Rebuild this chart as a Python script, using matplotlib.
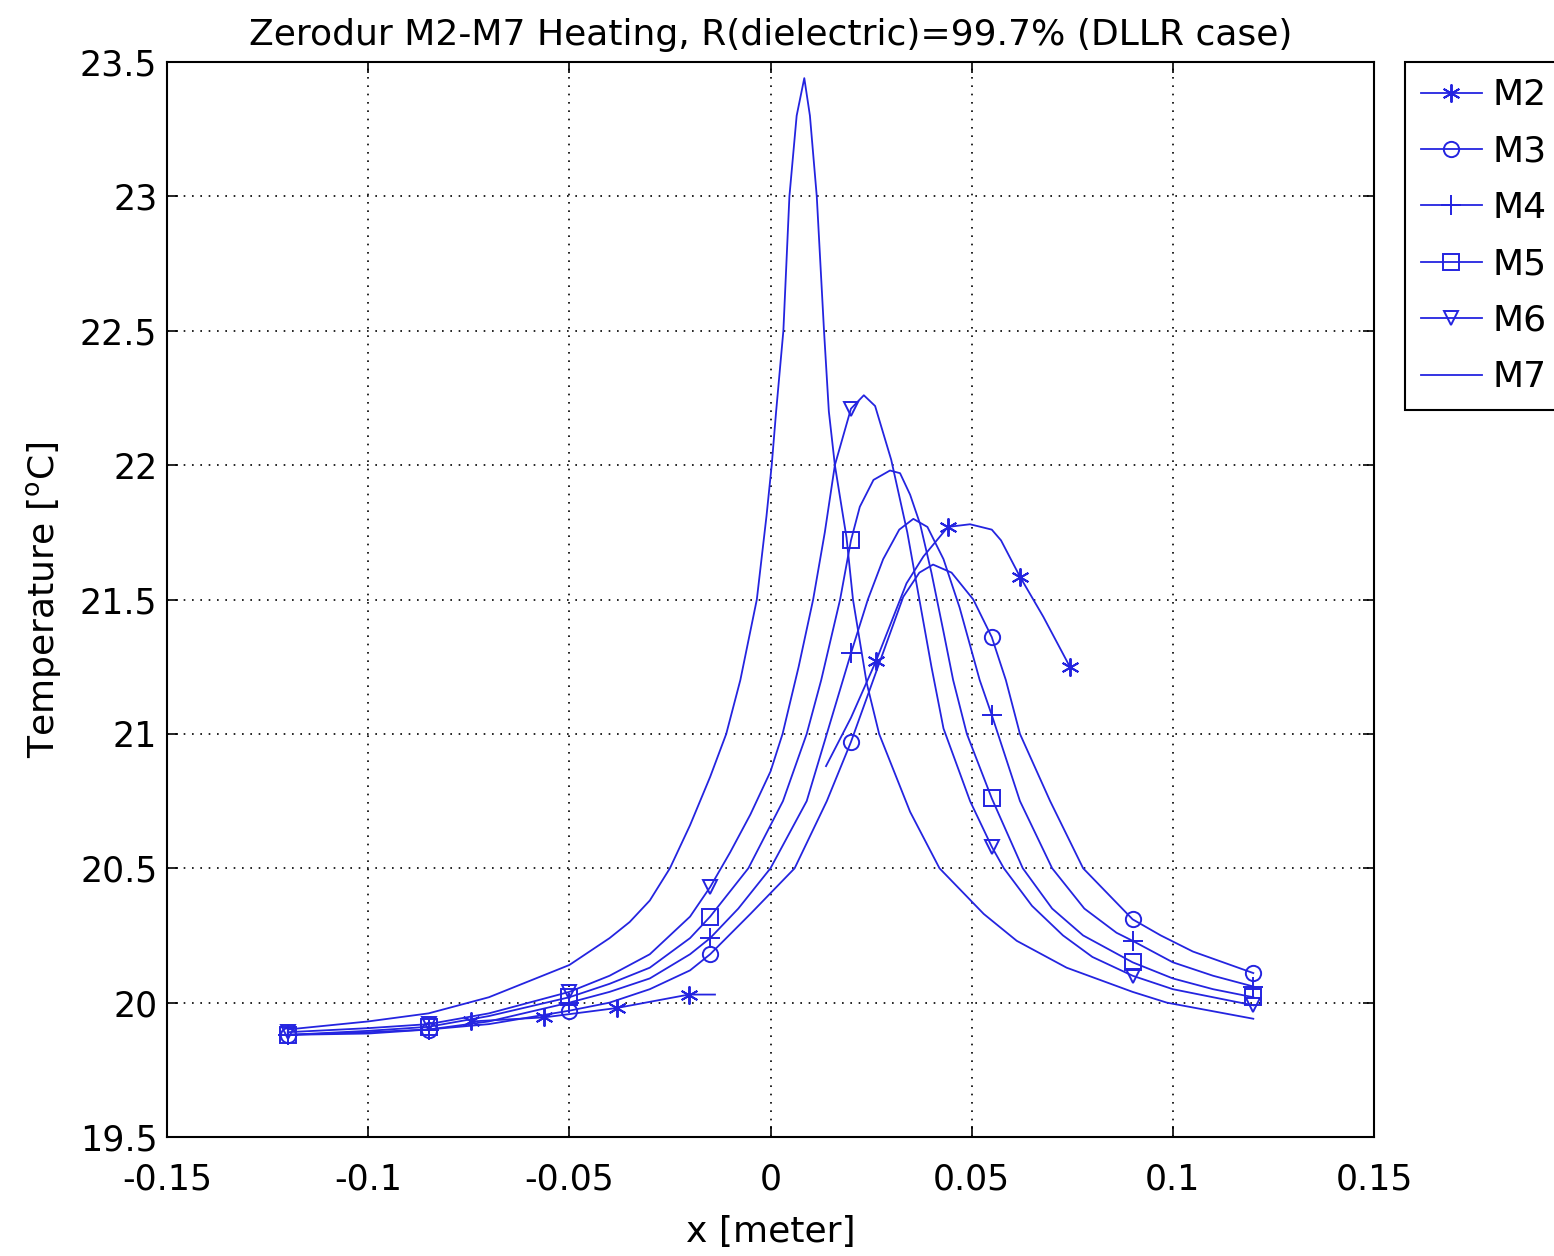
import matplotlib
matplotlib.use("Agg")
import matplotlib.pyplot as plt
import numpy as np

# ---------------- data ----------------
title = "Zerodur M2-M7 Heating, R(dielectric)=99.7% (DLLR case)"
x_ticks = [-0.15, -0.1, -0.05, 0, 0.05, 0.1, 0.15]
x_tick_labels = ["-0.15", "-0.1", "-0.05", "0", "0.05", "0.1", "0.15"]
y_ticks = [19.5, 20, 20.5, 21, 21.5, 22, 22.5, 23, 23.5]
y_tick_labels = ["19.5", "20", "20.5", "21", "21.5", "22", "22.5", "23", "23.5"]

# M2 (annular mirror: two segments)
x2_left = [-0.0744, -0.0563, -0.0382, -0.0203, -0.0138]
t2_left = [19.93, 19.945, 19.98, 20.03, 20.03]
x2_right = [0.0138, 0.02, 0.0262, 0.0338, 0.038, 0.0441, 0.0496, 0.055, 0.0573,
            0.062, 0.0678, 0.0744]
t2_right = [20.88, 21.06, 21.27, 21.56, 21.66, 21.77, 21.78, 21.76, 21.72,
            21.585, 21.436, 21.25]
m2_marks = [-0.0744, -0.0563, -0.0382, -0.0203, 0.0262, 0.0441, 0.062, 0.0744]

# M3
x3 = [-0.12, -0.10, -0.085, -0.07, -0.05, -0.04, -0.03, -0.02, -0.015, -0.005,
      0.006, 0.014, 0.02, 0.026, 0.033, 0.037, 0.0404, 0.045, 0.0504, 0.055,
      0.0585, 0.062, 0.0695, 0.0777, 0.09, 0.097, 0.105, 0.12]
t3 = [19.88, 19.885, 19.90, 19.92, 19.97, 20.00, 20.05, 20.12, 20.18, 20.33,
      20.50, 20.75, 20.97, 21.22, 21.51, 21.60, 21.63, 21.60, 21.50, 21.36,
      21.20, 21.00, 20.75, 20.50, 20.31, 20.25, 20.19, 20.11]

# M4
x4 = [-0.12, -0.10, -0.085, -0.07, -0.05, -0.04, -0.03, -0.02, -0.015, -0.008,
      0.0, 0.009, 0.014, 0.018, 0.02, 0.0242, 0.028, 0.032, 0.0355, 0.039,
      0.043, 0.047, 0.052, 0.055, 0.062, 0.070, 0.078, 0.086, 0.09, 0.10,
      0.11, 0.12]
t4 = [19.88, 19.89, 19.90, 19.93, 20.00, 20.04, 20.09, 20.18, 20.24, 20.35,
      20.50, 20.75, 21.00, 21.20, 21.30, 21.50, 21.65, 21.76, 21.80, 21.77,
      21.65, 21.47, 21.20, 21.07, 20.75, 20.50, 20.35, 20.26, 20.23, 20.15,
      20.10, 20.06]

# M5
x5 = [-0.12, -0.10, -0.085, -0.07, -0.05, -0.04, -0.03, -0.02, -0.015, -0.0055,
      0.0031, 0.009, 0.0126, 0.0173, 0.02, 0.0222, 0.0256, 0.0297, 0.0322,
      0.0347, 0.0372, 0.040, 0.043, 0.0454, 0.0488, 0.055, 0.0627, 0.07,
      0.0777, 0.09, 0.10, 0.11, 0.12]
t5 = [19.88, 19.895, 19.91, 19.95, 20.02, 20.07, 20.13, 20.24, 20.32, 20.50,
      20.75, 21.00, 21.20, 21.50, 21.72, 21.845, 21.945, 21.98, 21.97,
      21.89, 21.78, 21.60, 21.38, 21.20, 21.00, 20.76, 20.50, 20.35,
      20.25, 20.15, 20.09, 20.05, 20.02]

# M6
x6 = [-0.12, -0.10, -0.085, -0.07, -0.05, -0.04, -0.03, -0.02, -0.015, -0.01,
      -0.005, 0.0, 0.003, 0.007, 0.0106, 0.0135, 0.016, 0.02, 0.0232, 0.026,
      0.030, 0.034, 0.037, 0.040, 0.043, 0.0496, 0.055, 0.058, 0.065, 0.0727,
      0.08, 0.09, 0.10, 0.11, 0.12]
t6 = [19.89, 19.905, 19.92, 19.96, 20.04, 20.10, 20.18, 20.32, 20.43, 20.56,
      20.70, 20.86, 21.00, 21.25, 21.50, 21.75, 22.00, 22.21, 22.26, 22.22,
      22.02, 21.75, 21.50, 21.25, 21.02, 20.75, 20.58, 20.50, 20.36, 20.25,
      20.17, 20.10, 20.05, 20.02, 19.99]

# M7
x7 = [-0.12, -0.10, -0.085, -0.07, -0.06, -0.05, -0.04, -0.035, -0.03, -0.025,
      -0.02, -0.015, -0.011, -0.0075, -0.0034, -0.001, 0.0003, 0.0014, 0.0032,
      0.0047, 0.0065, 0.0084, 0.0098, 0.0115, 0.0133, 0.0145, 0.016, 0.0189,
      0.0205, 0.0239, 0.027, 0.0347, 0.042, 0.053, 0.0612, 0.0736, 0.09,
      0.0985, 0.12]
t7 = [19.90, 19.93, 19.96, 20.02, 20.08, 20.14, 20.24, 20.30, 20.38, 20.50,
      20.66, 20.84, 21.00, 21.20, 21.50, 21.81, 22.00, 22.20, 22.50,
      23.00, 23.30, 23.44, 23.30, 23.00, 22.50, 22.20, 22.00, 21.73,
      21.50, 21.19, 21.00, 20.71, 20.50, 20.33, 20.23, 20.13, 20.04,
      20.00, 19.94]

std_marks = [-0.12, -0.085, -0.05, -0.015, 0.02, 0.055, 0.09, 0.12]

# ---------------- style ----------------
BLUE = "#2424e0"
FS = 25
plt.rcParams["font.family"] = ["DejaVu Sans"]

fig = plt.figure(figsize=(15.54, 12.56), dpi=100)
ax = fig.add_axes([167 / 1554, 1 - 1137 / 1256, (1374 - 167) / 1554, (1137 - 62) / 1256])


def mark_idx(xs, marks):
    return [i for i, v in enumerate(xs) if any(abs(v - m) < 1e-9 for m in marks)]


common = dict(color=BLUE, lw=1.3, mfc="none", mec=BLUE, mew=1.4)

ax.plot(x2_left, t2_left, marker=(6, 2, 0), ms=13,
        markevery=mark_idx(x2_left, m2_marks), label="M2", **common)
ax.plot(x2_right, t2_right, marker=(6, 2, 0), ms=13,
        markevery=mark_idx(x2_right, m2_marks), **common)
ax.plot(x3, t3, marker="o", ms=11, markevery=mark_idx(x3, std_marks), label="M3", **common)
ax.plot(x4, t4, marker="+", ms=14, markevery=mark_idx(x4, std_marks), label="M4", **common)
ax.plot(x5, t5, marker="s", ms=11, markevery=mark_idx(x5, std_marks), label="M5", **common)
ax.plot(x6, t6, marker="v", ms=10, markevery=mark_idx(x6, std_marks), label="M6", **common)
ax.plot(x7, t7, label="M7", **common)

ax.set_xlim(-0.15, 0.15)
ax.set_ylim(19.5, 23.5)
ax.set_xticks(x_ticks)
ax.set_xticklabels(x_tick_labels)
ax.set_yticks(y_ticks)
ax.set_yticklabels(y_tick_labels)
ax.tick_params(direction="in", length=8, width=1.2, labelsize=FS, top=True, right=True)
ax.tick_params(axis="y", pad=7)
ax.tick_params(axis="x", pad=18)
ax.grid(True, color="black", linestyle=(0, (1, 4)), linewidth=1.2)
for s in ax.spines.values():
    s.set_linewidth(1.5)

ax.set_title(title, fontsize=26, pad=12)
ax.set_xlabel("x [meter]", fontsize=26, labelpad=14)
ax.set_ylabel("Temperature [$^{\\mathrm{o}}$C]", fontsize=26, labelpad=12)

leg = ax.legend(loc="upper left", bbox_to_anchor=(1405 / 1554, 1 - 62 / 1256),
                bbox_transform=fig.transFigure, borderaxespad=0, fontsize=26,
                frameon=True, fancybox=False, edgecolor="black", framealpha=1,
                handlelength=1.67, handletextpad=0.3, labelspacing=0.62,
                borderpad=0.45)
leg.get_frame().set_linewidth(1.5)

fig.savefig("out.png", dpi=100)
